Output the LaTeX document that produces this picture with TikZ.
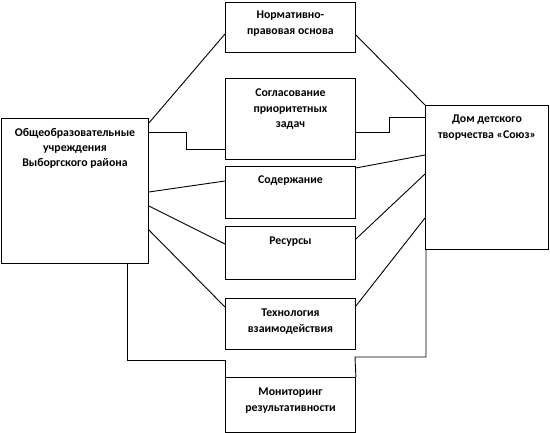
\documentclass[tikz,border=0pt]{standalone}
\usepackage{fontspec}
\setmainfont{Carlito}
\usetikzlibrary{calc}
\begin{document}
\begin{tikzpicture}[x=1pt,y=-1pt,
  box/.style={draw=black, line width=0.9pt, inner sep=0pt, anchor=north west},
  txt/.style={anchor=north, align=center, inner sep=0pt, font=\fontsize{11.8}{15.3}\selectfont\bfseries},
  link/.style={draw=black, line width=0.9pt}]
\useasboundingbox (0,0) rectangle (550,433);
% boxes
\node[box, minimum width=147pt, minimum height=145pt] (L) at (1,118) {};
\node[box, minimum width=123pt, minimum height=144pt] (R) at (425,105) {};
\node[box, minimum width=130pt, minimum height=50pt] (B1) at (225,2) {};
\node[box, minimum width=130pt, minimum height=81pt] (B2) at (225,78) {};
\node[box, minimum width=130pt, minimum height=52pt] (B3) at (225,166) {};
\node[box, minimum width=130pt, minimum height=53pt] (B4) at (225,226) {};
\node[box, minimum width=130pt, minimum height=51pt] (B5) at (225,298) {};
\node[box, minimum width=130pt, minimum height=55pt] (B6) at (225,377) {};
% texts
\node[txt] (tL) at ($(L.north)+(0,10)$) {Общеобразовательные\\учреждения\\Выборгского района};
\node[txt] (tR) at ($(R.north)+(0,10)$) {Дом детского\\творчества «Союз»};
\node[txt] (t1) at ($(B1.north)+(0,9)$) {Нормативно-\\правовая основа};
\node[txt] (t2) at ($(B2.north)+(0,11)$) {Согласование\\приоритетных\\задач};
\node[txt] (t3) at ($(B3.north)+(0,10)$) {Содержание};
\node[txt] (t4) at ($(B4.north)+(0,10.5)$) {Ресурсы};
\node[txt] (t5) at ($(B5.north)+(0,11)$) {Технология\\взаимодействия};
\node[txt] (t6) at ($(B6.north)+(0,11)$) {Мониторинг\\результативности};
% connectors
\coordinate (c1) at (186,132);
\coordinate (c2) at (186,149);
\coordinate (c3) at (389,132);
\coordinate (c4) at (389,117);
\coordinate (c5) at (127,360);
\coordinate (c6) at (225,360);
\coordinate (c7) at (426,357);
\coordinate (c8) at (355,357);
\path[link] (L.east |- 0,123) -- (B1.west |- 0,34);
\path[link] (B1.east |- 0,35) -- (R.north west);
\path[link] (L.east |- 0,132) -- (c1) -- (c2) -- (B2.west |- c2);
\path[link] (B2.east |- c3) -- (c3) -- (c4) -- (R.west |- c4);
\path[link] (L.east |- 0,192) -- (B3.west |- 0,181);
\path[link] (B3.east |- 0,168) -- (R.west |- 0,155);
\path[link] (L.east |- 0,206) -- (B4.west |- 0,244);
\path[link] (B4.east |- 0,239) -- (R.west |- 0,174);
\path[link] (L.east |- 0,230) -- (B5.west |- 0,307);
\path[link] (B5.east |- 0,306) -- (R.west |- 0,218);
\path[link] (L.south -| c5) -- (c5) -- (c6) -- (B6.north west);
\path[link] (R.south -| c7) -- (c7) -- (c8) -- (B6.north east);
\end{tikzpicture}
\end{document}
